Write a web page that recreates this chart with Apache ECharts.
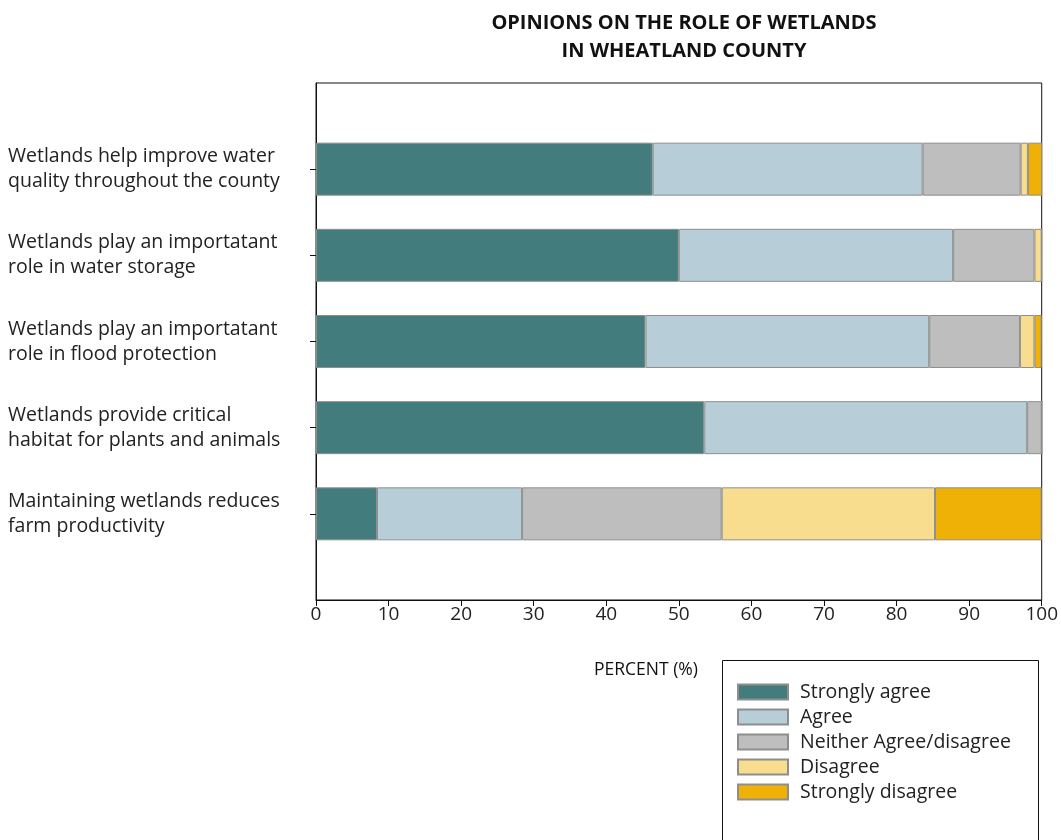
<!DOCTYPE html>
<html>
<head>
<meta charset="utf-8">
<script src="https://cdn.jsdelivr.net/npm/echarts@6/dist/echarts.min.js"></script>
<style>html,body{margin:0;padding:0;background:#fff}#c{width:1061px;height:840px}</style>
</head>
<body>
<div id="c"></div>
<script>
// Categories bottom-to-top, with empty padding slots at each end
const categories = [
  '',
  'Maintaining wetlands reduces\nfarm productivity',
  'Wetlands provide critical\nhabitat for plants and animals',
  'Wetlands play an importatant\nrole in flood protection',
  'Wetlands play an importatant\nrole in water storage',
  'Wetlands help improve water\nquality throughout the county',
  ''
];
const seriesNames = ['Strongly agree', 'Agree', 'Neither Agree/disagree', 'Disagree', 'Strongly disagree'];
const stronglyAgree    = [null, 8.4, 53.5, 45.4, 50.0, 46.4, null];
const agree            = [null, 20.0, 44.5, 39.1, 37.8, 37.2, null];
const neither          = [null, 27.5, 2.0, 12.5, 11.2, 13.5, null];
const disagree         = [null, 29.4, 0, 2.0, 1.0, 1.0, null];
const stronglyDisagree = [null, 14.7, 0, 1.0, 0, 2.0, null];
const xTicks = [0, 10, 20, 30, 40, 50, 60, 70, 80, 90, 100];

const colors = ['#437C7C', '#B7CDD8', '#BEBEBE', '#F9DD8E', '#F0B106'];
const allData = [stronglyAgree, agree, neither, disagree, stronglyDisagree];
const FONT = '"Open Sans", sans-serif';

const chart = echarts.init(document.getElementById('c'), null, {renderer: 'canvas'});
chart.setOption({
  animation: false,
  backgroundColor: '#fff',
  title: [
    {
      text: 'OPINIONS ON THE ROLE OF WETLANDS\nIN WHEATLAND COUNTY',
      left: 679, top: 4, textAlign: 'center',
      textStyle: {fontFamily: FONT, fontWeight: 'bold', fontSize: 20, lineHeight: 28, color: '#111'}
    },
    {
      text: 'PERCENT (%)',
      left: 589, top: 656,
      textStyle: {fontFamily: FONT, fontWeight: 'normal', fontSize: 17.5, color: '#111'}
    }
  ],
  graphic: [{
    type: 'rect', left: 720, top: 658, silent: true,
    shape: {width: 316, height: 220},
    style: {fill: 'none', stroke: '#111', lineWidth: 1}
  }],
  grid: {
    left: 316, right: 19, top: 83, bottom: 240,
    show: true, borderColor: '#111', borderWidth: 1, backgroundColor: 'transparent'
  },
  legend: {
    orient: 'vertical',
    left: 720, top: 658,
    padding: [24, 10, 10, 17],
    icon: 'rect',
    itemWidth: 50, itemHeight: 15, itemGap: 5,
    textStyle: {fontFamily: FONT, fontSize: 19.5, color: '#222', padding: [0, 0, 0, 7]},
    data: seriesNames
  },
  xAxis: {
    type: 'value', min: xTicks[0], max: xTicks[xTicks.length - 1], interval: 10,
    axisLine: {show: true, lineStyle: {color: '#111'}},
    axisTick: {show: true, length: 6, lineStyle: {color: '#111'}},
    axisLabel: {fontFamily: FONT, fontSize: 19, color: '#222', margin: 5},
    splitLine: {show: false}
  },
  yAxis: {
    type: 'category', data: categories, boundaryGap: false,
    axisLine: {show: true, lineStyle: {color: '#111'}},
    axisTick: {show: true, length: 6, interval: function (i) { return i > 0 && i < categories.length - 1; }, lineStyle: {color: '#111'}},
    axisLabel: {
      interval: 0, align: 'left', margin: 308,
      fontFamily: FONT, fontSize: 19.5, lineHeight: 25, color: '#222', padding: [5, 0, 0, 0]
    }
  },
  series: seriesNames.map(function (name, k) {
    return {
      name: name, type: 'bar', stack: 'total', barWidth: 53,
      data: allData[k],
      itemStyle: {color: colors[k], borderColor: '#8E8E8E', borderWidth: 1}
    };
  })
});
</script>
</body>
</html>
